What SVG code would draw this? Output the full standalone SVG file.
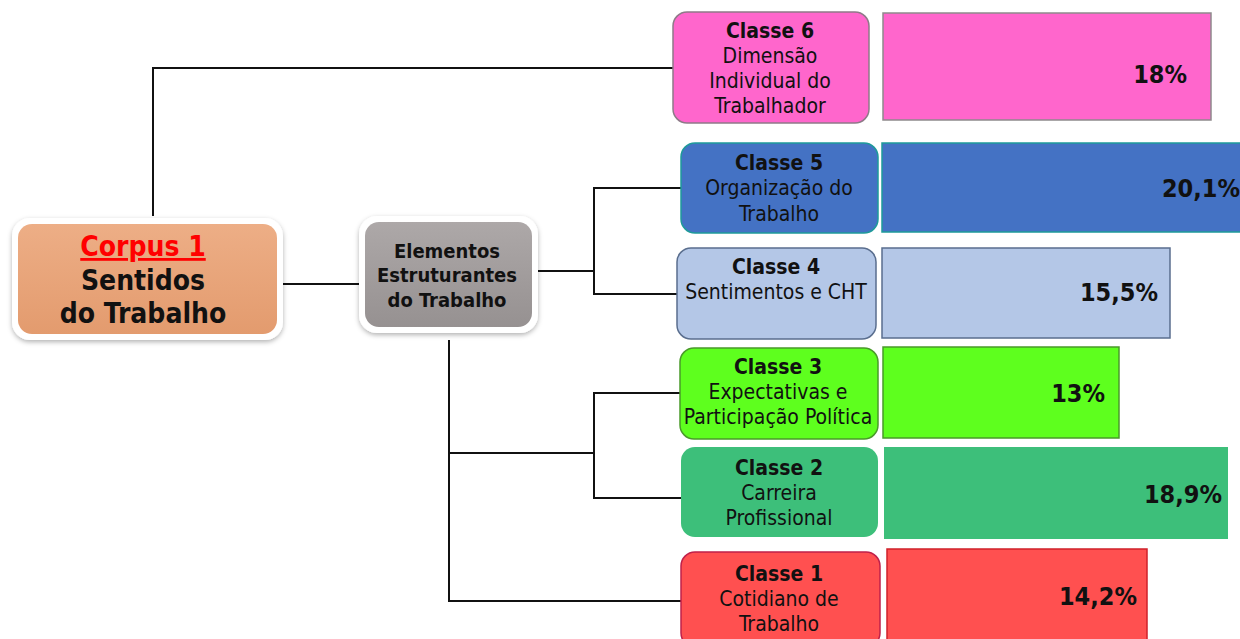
<svg xmlns="http://www.w3.org/2000/svg" width="1240" height="639" viewBox="0 0 1240 639">
  <defs>
    <filter id="soft" x="-10%" y="-10%" width="120%" height="125%">
      <feDropShadow dx="0" dy="2" stdDeviation="2.5" flood-color="#000" flood-opacity="0.3"/>
    </filter>
    <linearGradient id="gOrange" x1="0" y1="0" x2="0" y2="1">
      <stop offset="0" stop-color="#EDAE86"/>
      <stop offset="1" stop-color="#E39B6E"/>
    </linearGradient>
    <linearGradient id="gGray" x1="0" y1="0" x2="0" y2="1">
      <stop offset="0" stop-color="#ADA8A8"/>
      <stop offset="1" stop-color="#969191"/>
    </linearGradient>
  </defs>
  <style>
    .t { font-family: "DejaVu Sans Condensed", "DejaVu Sans", sans-serif; fill: #111; text-anchor: middle; }
    .cls { font-size: 21px; }
    .b { font-weight: bold; font-size: 21px; }
    .pct { font-family: "DejaVu Sans Condensed", "DejaVu Sans", sans-serif; font-weight: bold; font-size: 25px; fill: #111; text-anchor: end; }
    .ln { stroke: #111; stroke-width: 2; fill: none; }
  </style>
  <rect width="1240" height="639" fill="#fff"/>

  <!-- connectors -->
  <g id="connectors" class="ln">
    <polyline points="153,216 153,68 673,68"/>
    <line x1="283" y1="284" x2="359" y2="284"/>
    <line x1="538" y1="271" x2="594" y2="271"/>
    <polyline points="682,188 594,188 594,294 678,294"/>
    <polyline points="449,340 449,601 684,601"/>
    <line x1="449" y1="453" x2="594" y2="453"/>
    <polyline points="683,393 594,393 594,498 684,498"/>
  </g>

  <!-- root -->
  <g id="corpus">
    <rect x="12" y="218" width="271" height="122" rx="18" fill="#fff" filter="url(#soft)"/>
    <rect x="18" y="224" width="259" height="110" rx="14" fill="url(#gOrange)"/>
    <text class="t" font-weight="bold" x="143" y="256" font-size="28" style="fill:#FF0000" text-decoration="underline">Corpus 1</text>
    <text class="t" font-weight="bold" x="143" y="290" font-size="28">Sentidos</text>
    <text class="t" font-weight="bold" x="143" y="323" font-size="28">do Trabalho</text>
  </g>

  <g id="elementos">
    <rect x="359" y="216" width="179" height="117" rx="18" fill="#fff" filter="url(#soft)"/>
    <rect x="365" y="222" width="167" height="105" rx="14" fill="url(#gGray)"/>
    <text class="t" font-weight="bold" x="447" y="258" font-size="20">Elementos</text>
    <text class="t" font-weight="bold" x="447" y="282" font-size="20">Estruturantes</text>
    <text class="t" font-weight="bold" x="447" y="307" font-size="20">do Trabalho</text>
  </g>

  <!-- classes -->
  <g id="classe6">
    <rect x="673" y="12" width="196" height="111" rx="14" fill="#FF66CC" stroke="#8E7A88" stroke-width="1.5"/>
    <text class="t b" x="770" y="38">Classe 6</text>
    <text class="t cls" x="770" y="63">Dimensão</text>
    <text class="t cls" x="770" y="88">Individual do</text>
    <text class="t cls" x="770" y="113">Trabalhador</text>
  </g>
  <g id="barra6">
    <rect x="883" y="13" width="328" height="107" fill="#FF66CC" stroke="#8E8A8C" stroke-width="1.5"/>
    <text class="pct" x="1187" y="83">18%</text>
  </g>

  <g id="classe5">
    <rect x="681" y="143" width="197" height="90" rx="14" fill="#4472C4" stroke="#1E9A9A" stroke-width="1.5"/>
    <text class="t b" x="779" y="170">Classe 5</text>
    <text class="t cls" x="779" y="195">Organização do</text>
    <text class="t cls" x="779" y="221">Trabalho</text>
  </g>
  <g id="barra5">
    <rect x="882" y="143" width="362" height="89" fill="#4472C4" stroke="#1E9A9A" stroke-width="1.5"/>
    <text class="pct" x="1240" y="197">20,1%</text>
  </g>

  <g id="classe4">
    <rect x="677" y="248" width="199" height="91" rx="14" fill="#B4C7E7" stroke="#5A6E8E" stroke-width="1.5"/>
    <text class="t b" x="776" y="274">Classe 4</text>
    <text class="t cls" x="776" y="299">Sentimentos e CHT</text>
  </g>
  <g id="barra4">
    <rect x="882" y="248" width="288" height="90" fill="#B4C7E7" stroke="#5A6E8E" stroke-width="1.5"/>
    <text class="pct" x="1158" y="301">15,5%</text>
  </g>

  <g id="classe3">
    <rect x="680" y="348" width="198" height="91" rx="14" fill="#5EFF1E" stroke="#4A9A2A" stroke-width="1.5"/>
    <text class="t b" x="778" y="374">Classe 3</text>
    <text class="t cls" x="778" y="399">Expectativas e</text>
    <text class="t cls" x="778" y="424">Participação Política</text>
  </g>
  <g id="barra3">
    <rect x="883" y="347" width="236" height="91" fill="#5EFF1E" stroke="#4A9A2A" stroke-width="1.5"/>
    <text class="pct" x="1105" y="402">13%</text>
  </g>

  <g id="classe2">
    <rect x="681" y="447" width="197" height="90" rx="14" fill="#3DBF7A"/>
    <text class="t b" x="779" y="475">Classe 2</text>
    <text class="t cls" x="779" y="500">Carreira</text>
    <text class="t cls" x="779" y="525">Profissional</text>
  </g>
  <g id="barra2">
    <rect x="884" y="447" width="344" height="92" fill="#3DBF7A"/>
    <text class="pct" x="1222" y="503">18,9%</text>
  </g>

  <g id="classe1">
    <rect x="681" y="552" width="199" height="95" rx="14" fill="#FF5050" stroke="#C0204A" stroke-width="1.5"/>
    <text class="t b" x="779" y="581">Classe 1</text>
    <text class="t cls" x="779" y="606">Cotidiano de</text>
    <text class="t cls" x="779" y="631">Trabalho</text>
  </g>
  <g id="barra1">
    <rect x="887" y="549" width="260" height="95" fill="#FF5050" stroke="#D0202A" stroke-width="1.5"/>
    <text class="pct" x="1137" y="605">14,2%</text>
  </g>
</svg>
